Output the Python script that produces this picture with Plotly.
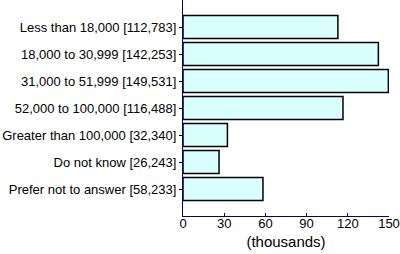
import plotly.graph_objects as go

categories = [
    "Less than 18,000 [112,783]",
    "18,000 to 30,999 [142,253]",
    "31,000 to 51,999 [149,531]",
    "52,000 to 100,000 [116,488]",
    "Greater than 100,000 [32,340]",
    "Do not know [26,243]",
    "Prefer not to answer [58,233]",
]
values = [112.783, 142.253, 149.531, 116.488, 32.340, 26.243, 58.233]
x_ticks = [0, 30, 60, 90, 120, 150]

fig = go.Figure(go.Bar(
    x=values, y=categories, orientation="h",
    marker=dict(color="#D9FFFF", line=dict(color="black", width=1.5)),
    width=0.85,
))

fig.update_layout(
    width=400, height=254,
    margin=dict(l=183, r=11, t=0, b=38),
    paper_bgcolor="white", plot_bgcolor="white",
    font=dict(family="Liberation Sans, Arial", size=13, color="black"),
    showlegend=False,
)
fig.update_xaxes(
    range=[0, 150], tickvals=x_ticks, ticks="inside", ticklen=3,
    ticklabelstandoff=-5,
    tickcolor="#000080", showline=True, linecolor="#000080", linewidth=1,
    showgrid=False, zeroline=False,
    title=dict(text="(thousands)", standoff=6, font=dict(size=15)),
)
fig.update_yaxes(
    type="category", range=[7, -1], ticks="outside", ticklen=3,
    tickcolor="black", showline=True, linecolor="#000080", linewidth=1,
    showgrid=False, zeroline=False,
)

fig.write_html("out.html")
